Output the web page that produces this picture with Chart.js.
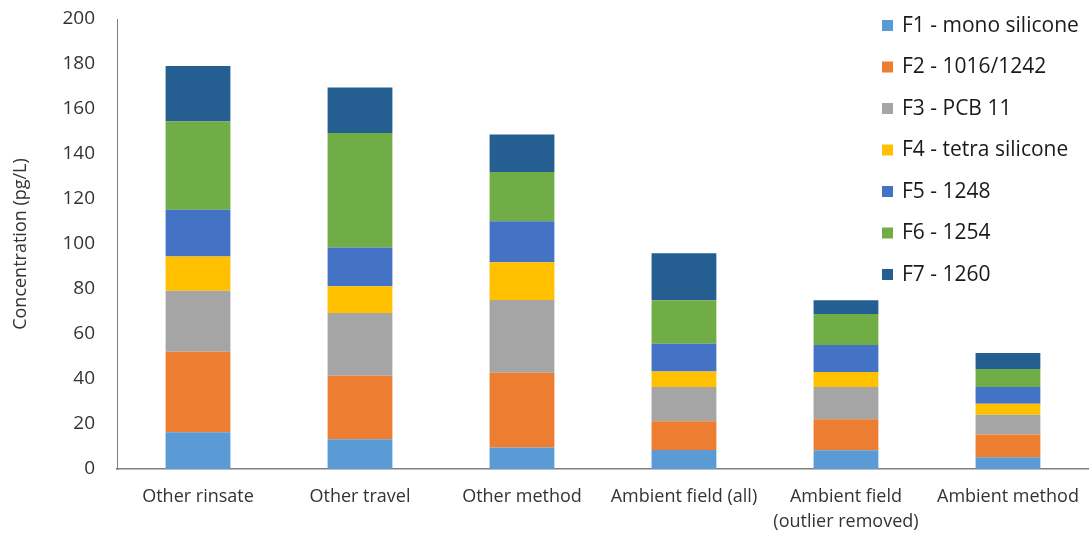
<!DOCTYPE html>
<html>
<head>
<meta charset="utf-8">
<script src="https://cdn.jsdelivr.net/npm/chart.js@4.4.1/dist/chart.umd.min.js"></script>
<style>
  html, body { margin: 0; padding: 0; background: #fff; overflow: hidden; }
  #wrap { position: relative; width: 1094px; height: 535px; }
</style>
</head>
<body>
<div id="wrap"><canvas id="c"></canvas></div>
<script>
// Sample groups (x-axis categories)
const categories = [
  'Other rinsate',
  'Other travel',
  'Other method',
  'Ambient field (all)',
  ['Ambient field', '(outlier removed)'],
  'Ambient method'
];

// Factor contributions, pg/L, one array per factor
const f1MonoSilicone  = [16.3, 13.2,  9.6,  8.4,  8.3, 5.2];
const f2Aroclor1016   = [35.8, 28.3, 33.2, 12.8, 13.8, 10.1];
const f3Pcb11         = [27.1, 27.8, 32.3, 15.2, 14.3, 8.8];
const f4TetraSilicone = [15.3, 11.9, 16.8,  6.9,  6.7, 4.9];
const f5Aroclor1248   = [20.7, 17.3, 18.2, 12.4, 12.0, 7.4];
const f6Aroclor1254   = [39.3, 50.8, 21.9, 19.3, 13.8, 8.0];
const f7Aroclor1260   = [24.6, 20.3, 16.7, 20.9,  6.1, 7.2];

const seriesNames = [
  'F1 - mono silicone',
  'F2 - 1016/1242',
  'F3 - PCB 11',
  'F4 - tetra silicone',
  'F5 - 1248',
  'F6 - 1254',
  'F7 - 1260'
];
const seriesValues = [f1MonoSilicone, f2Aroclor1016, f3Pcb11, f4TetraSilicone,
                      f5Aroclor1248, f6Aroclor1254, f7Aroclor1260];
const seriesColors = ['#5B9BD5', '#ED7D31', '#A5A5A5', '#FFC000', '#4472C4', '#70AD47', '#255E91'];

// Y-axis ticks
const yTicks = [0, 20, 40, 60, 80, 100, 120, 140, 160, 180, 200];

const FONT = '"Open Sans", Lato, sans-serif';
const TEXT = '#333333';

// Legend stacked in the upper right, drawn over the plot area
const sideLegend = {
  id: 'sideLegend',
  afterDraw(chart) {
    const ctx = chart.ctx;
    ctx.save();
    ctx.font = '21px ' + FONT;
    ctx.textBaseline = 'middle';
    ctx.textAlign = 'left';
    chart.data.datasets.forEach((ds, i) => {
      const cy = 26 + i * 41.5;
      ctx.fillStyle = ds.backgroundColor;
      ctx.fillRect(882, cy - 6, 11, 11);
      ctx.fillStyle = '#1a1a1a';
      ctx.fillText(ds.label, 902, cy);
    });
    ctx.restore();
  }
};

new Chart(document.getElementById('c'), {
  type: 'bar',
  data: {
    labels: categories,
    datasets: seriesNames.map((name, i) => ({
      label: name,
      data: seriesValues[i],
      backgroundColor: seriesColors[i],
      borderWidth: 0,
      categoryPercentage: 1.0,
      barPercentage: 0.4
    }))
  },
  options: {
    responsive: true,
    maintainAspectRatio: false,
    animation: false,
    layout: { padding: { top: 19, right: 1, left: 0, bottom: 0 } },
    plugins: {
      legend: { display: false },
      tooltip: { enabled: false }
    },
    scales: {
      x: {
        stacked: true,
        grid: { display: false, drawTicks: false },
        border: { display: true, color: '#7f7f7f', width: 1.5 },
        ticks: {
          color: TEXT,
          font: { family: FONT, size: 18, lineHeight: 1.4 },
          padding: 15,
          maxRotation: 0,
          autoSkip: false
        },
        afterFit(s) { s.height = 66; }
      },
      y: {
        stacked: true,
        min: 0,
        max: 200,
        afterBuildTicks(s) { s.ticks = yTicks.map(v => ({ value: v })); },
        grid: { display: false, drawTicks: false },
        border: { display: true, color: '#7f7f7f', width: 1 },
        ticks: {
          color: TEXT,
          font: { family: FONT, size: 19 },
          padding: 22
        },
        title: {
          display: true,
          text: 'Concentration (pg/L)',
          color: TEXT,
          font: { family: FONT, size: 18 },
          padding: { top: 10, bottom: 0 }
        },
        afterFit(s) {
          s.width = 117;
          s.paddingTop = 0;
          s.paddingBottom = 0;
        }
      }
    }
  },
  plugins: [sideLegend]
});
</script>
</body>
</html>
